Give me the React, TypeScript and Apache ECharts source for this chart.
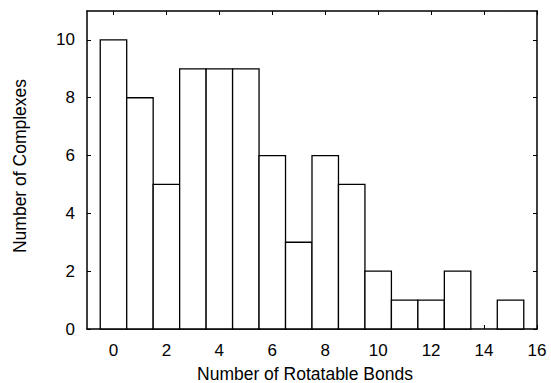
import React, { useEffect, useRef } from "react";
import * as echarts from "echarts";

const bondCounts = [0, 1, 2, 3, 4, 5, 6, 7, 8, 9, 10, 11, 12, 13, 14, 15];
const complexCounts = [10, 8, 5, 9, 9, 9, 6, 3, 6, 5, 2, 1, 1, 2, 0, 1];
const xTicks = [0, 2, 4, 6, 8, 10, 12, 14, 16];
const yTicks = [0, 2, 4, 6, 8, 10];
const xTitle = "Number of Rotatable Bonds";
const yTitle = "Number of Complexes";

export default function App() {
  const ref = useRef<HTMLDivElement>(null);
  useEffect(() => {
    if (!ref.current) return;
    const chart = echarts.init(ref.current, null, { renderer: "svg" });
    const font = "'Liberation Sans', Arial, Helvetica, sans-serif";
    const fs = 17;
    const tfs = 17.5;
    const axisCommon = {
      type: "value" as const,
      splitLine: { show: false },
      axisLine: { show: true, onZero: false, lineStyle: { color: "#000", width: 1.5 } },
    };
    const tick = (vals: number[]) => ({
      show: true,
      inside: true,
      length: 4,
      customValues: vals,
      lineStyle: { color: "#000", width: 1 },
    });
    const data = bondCounts.map((b, i) => [b, complexCounts[i]]);
    chart.setOption({
      animation: false,
      grid: {
        left: 87,
        top: 11,
        width: 450,
        height: 318,
        show: false,
        containLabel: false,
        outerBoundsMode: "none",
      },
      graphic: [
        {
          type: "text",
          x: 20,
          y: 166,
          rotation: Math.PI / 2,
          style: {
            text: yTitle,
            fill: "#000",
            fontSize: tfs,
            fontFamily: font,
            align: "center",
            verticalAlign: "middle",
          },
        },
      ],
      xAxis: [
        {
          ...axisCommon,
          min: -1,
          max: 16,
          position: "bottom",
          name: xTitle,
          nameLocation: "middle",
          nameGap: 36,
          nameTextStyle: {
            color: "#000",
            fontSize: tfs,
            fontFamily: font,
            padding: [0, 14, 0, 0],
          },
          axisTick: tick(xTicks),
          axisLabel: {
            color: "#000",
            fontSize: fs,
            fontFamily: font,
            margin: 13,
            customValues: xTicks,
          },
        },
        {
          ...axisCommon,
          min: -1,
          max: 16,
          position: "top",
          axisTick: tick(xTicks),
          axisLabel: { show: false },
        },
      ],
      yAxis: [
        {
          ...axisCommon,
          min: 0,
          max: 11,
          position: "left",
          axisTick: tick(yTicks),
          axisLabel: {
            color: "#000",
            fontSize: fs,
            fontFamily: font,
            margin: 12,
            customValues: yTicks,
          },
        },
        {
          ...axisCommon,
          min: 0,
          max: 11,
          position: "right",
          axisTick: tick(yTicks),
          axisLabel: { show: false },
        },
      ],
      series: [
        {
          type: "custom",
          xAxisIndex: 0,
          yAxisIndex: 0,
          data,
          renderItem: (params: any, api: any) => {
            const x = api.value(0);
            const y = api.value(1);
            if (y <= 0) return null;
            const p0 = api.coord([x - 0.5, 0]);
            const p1 = api.coord([x + 0.5, y]);
            return {
              type: "rect",
              shape: { x: p0[0], y: p1[1], width: p1[0] - p0[0], height: p0[1] - p1[1] },
              style: { fill: "#fff", stroke: "#000", lineWidth: 1.3 },
            };
          },
        },
      ],
    });
    return () => chart.dispose();
  }, []);
  return (
    <div
      ref={ref}
      style={{ position: "fixed", left: 0, top: 0, width: 551, height: 383, background: "#fff" }}
    />
  );
}
